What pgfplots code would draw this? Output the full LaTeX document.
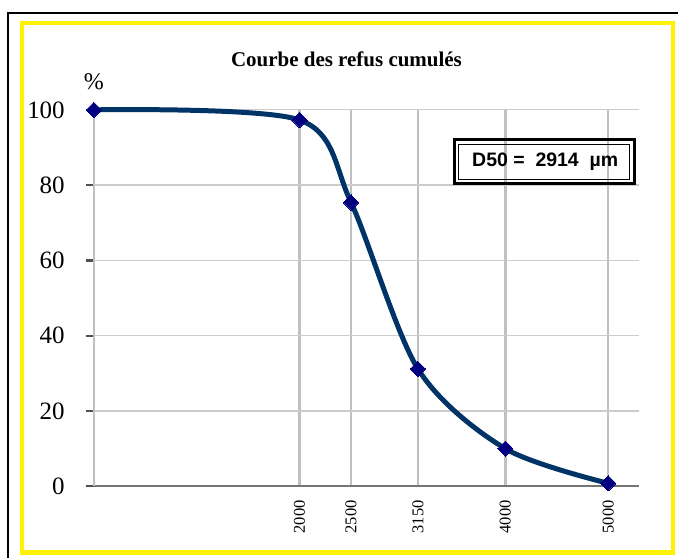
\documentclass[border=0pt]{standalone}
\usepackage{fontspec}
\setmainfont{Liberation Serif}
\newfontfamily\arialf{Liberation Sans}
\usepackage{pgfplots}
\pgfplotsset{compat=1.18}
\definecolor{curve}{RGB}{0,51,102}
\definecolor{mk}{RGB}{0,0,128}
\definecolor{vgrid}{RGB}{192,192,192}
\definecolor{hgrid}{RGB}{204,204,204}
\definecolor{xaxis}{RGB}{118,118,118}
\definecolor{ytk}{RGB}{80,80,80}
\begin{document}
\begin{tikzpicture}[x=1pt,y=1pt]
\path[fill=white] (0,0) rectangle (679,559);
\draw[black, line width=2] (8,0) -- (8,546) -- (679,546);
\draw[yellow, line width=4.5] (22,5.5) rectangle (674,536);
\begin{axis}[
  at={(94pt,72pt)}, anchor=south west, scale only axis,
  width=546pt, height=377pt,
  xmin=0, xmax=5300, ymin=0, ymax=100,
  axis x line=bottom, axis y line=left,
  x axis line style={-, draw=xaxis, line width=1.8pt},
  y axis line style={-, draw=vgrid, line width=2.6pt},
  xtick={2000,2500,3150,4000,5000},
  ytick={0,20,...,100},
  grid=major,
  x grid style={draw=vgrid, line width=2.6pt},
  y grid style={draw=hgrid, line width=1.3pt},
  tick align=outside,
  major tick length=8pt,
  xtick style={draw=none},
  ytick style={draw=ytk, line width=2.2pt},
  /pgf/number format/1000 sep={},
  /pgf/number format/assume math mode=true,
  xticklabel style={yshift=-6pt, rotate=90, anchor=east, inner sep=0pt, font=\fontsize{16.5}{16.5}\selectfont},
  yticklabel style={xshift=-21pt, anchor=east, inner sep=0pt, font=\fontsize{25}{25}\selectfont},
  clip=false,
]
\addplot[curve, line width=5pt, smooth, mark=square*, mark size=5.4pt,
  mark options={draw=mk, fill=mk, line width=0pt, rotate=45, solid}]
  coordinates {(0,100) (2000,97.3) (2500,75.4) (3150,31.2) (4000,10.0) (5000,0.8)};
\end{axis}
\node[anchor=base, font=\bfseries\fontsize{21}{21}\selectfont] at (347,492) {Courbe des refus cumulés};
\node[anchor=base, font=\fontsize{24}{24}\selectfont] at (94,469) {\%};
\draw[line width=3] (455,375) rectangle (635,419);
\draw[line width=1.2] (459.5,379.5) rectangle (630.5,414.5);
\node[font=\arialf\bfseries\fontsize{19.5}{19.5}\selectfont] at (546,397) {D50 =\ \ 2914\ \ µm};
\end{tikzpicture}
\end{document}
